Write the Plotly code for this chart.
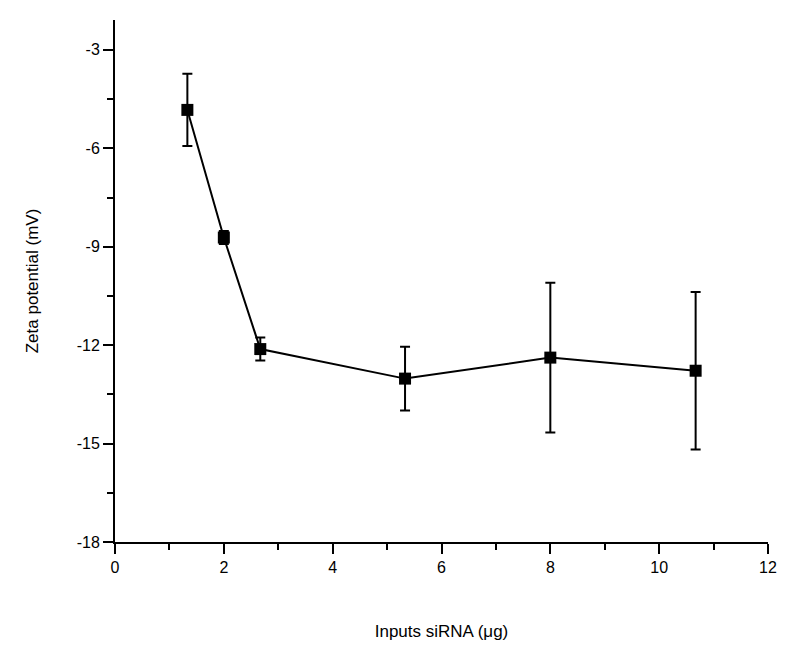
import plotly.graph_objects as go

x_vals = [1.33, 2.0, 2.67, 5.33, 8.0, 10.67]
zeta = [-4.83, -8.72, -12.12, -13.02, -12.38, -12.78]
zeta_err = [1.1, 0.2, 0.35, 0.97, 2.28, 2.4]

x_ticks = [0, 2, 4, 6, 8, 10, 12]
y_ticks = [-18, -15, -12, -9, -6, -3]

font_family = "Liberation Sans, Arial, sans-serif"

fig = go.Figure()
fig.add_trace(go.Scatter(
    x=x_vals, y=zeta, mode="lines+markers",
    line=dict(color="black", width=2),
    marker=dict(symbol="square", size=12, color="black"),
    error_y=dict(type="data", array=zeta_err, visible=True,
                 color="black", thickness=2, width=5),
    showlegend=False,
))

fig.update_layout(
    width=800, height=649,
    margin=dict(l=107, r=40, t=12, b=115),
    paper_bgcolor="white", plot_bgcolor="white",
    font=dict(family=font_family, size=16, color="black"),
    xaxis=dict(
        range=[0, 12], tickvals=x_ticks, ticktext=[str(v) for v in x_ticks],
        showgrid=False, zeroline=False, showline=True, linecolor="black", linewidth=2,
        ticks="outside", ticklen=10, tickwidth=2, tickcolor="black",
        minor=dict(dtick=1, ticks="outside", ticklen=6, tickwidth=2, tickcolor="black", tick0=0),
        title=dict(text="Inputs siRNA (μg)", standoff=50, font=dict(size=17)),
        tickfont=dict(size=16),
    ),
    yaxis=dict(
        range=[-18, -2.09], tickvals=y_ticks, ticktext=[str(v) for v in y_ticks],
        showgrid=False, zeroline=False, showline=True, linecolor="black", linewidth=2,
        ticks="outside", ticklen=10, tickwidth=2, tickcolor="black",
        minor=dict(dtick=1.5, tick0=-18, ticks="outside", ticklen=6, tickwidth=2, tickcolor="black"),
        title=dict(text="Zeta potential (mV)", standoff=34, font=dict(size=17)),
        tickfont=dict(size=16),
    ),
)

fig.write_html("out.html")
